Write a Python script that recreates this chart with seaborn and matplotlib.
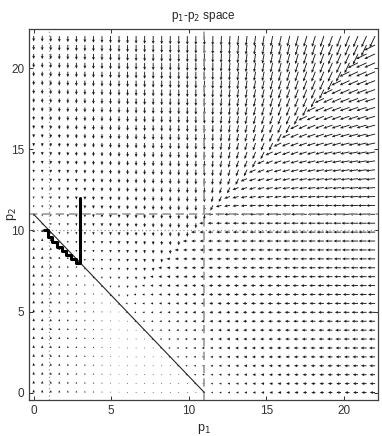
import numpy as np
import matplotlib
matplotlib.use("Agg")
import matplotlib.pyplot as plt
import seaborn as sns

# price grid for the arrow field
p_grid = np.arange(0, 22.01, 0.55)

# boundaries seen in the picture
cap = 11            # p1 + p2 = 11 line, and dashed lines at 11
eq_p1 = 1           # dotted vertical
eq_p2 = 10          # dotted horizontal

# solid line p1 + p2 = 11
line_p1 = [0, 11]
line_p2 = [11, 0]

# adjustment path (thick black)
path_p1 = [3, 3, 2.7, 2.7, 2.4, 2.4, 2.1, 2.1, 1.8, 1.8, 1.5, 1.5, 1.2, 1.2, 0.9, 0.9, 0.65]
path_p2 = [12, 8, 8, 8.25, 8.25, 8.5, 8.5, 8.75, 8.75, 9.0, 9.0, 9.3, 9.3, 9.6, 9.6, 10.0, 10.0]

# arrow-length parameters (data units)
base_len = 0.12
slope_len = 0.02
up_len = 0.18
up_fade = 8
mix = 0.5

sns.set_style("ticks")
plt.rcParams['font.family'] = ['Liberation Sans Narrow', 'Liberation Sans', 'DejaVu Sans']
plt.rcParams['mathtext.fontset'] = 'custom'
plt.rcParams['mathtext.rm'] = 'Liberation Sans Narrow'
plt.rcParams['mathtext.it'] = 'Liberation Sans Narrow'

P1, P2 = np.meshgrid(p_grid, p_grid)
s = P1 + P2 - cap
L = base_len + slope_len * s
U = np.zeros_like(P1)
V = np.zeros_like(P1)

below = s < 0
V[below] = up_len * np.clip(up_fade - P1[below], 0, None) / up_fade

hi2 = (~below) & (P2 >= P1)
th2 = np.arctan(mix * np.clip(P1 - cap, 0, None) / np.maximum(P2 - cap, 0.3))
U[hi2] = -(L * np.sin(th2))[hi2]
V[hi2] = -(L * np.cos(th2))[hi2]

hi1 = (~below) & (P1 > P2)
th1 = np.arctan(mix * np.clip(P2 - cap, 0, None) / np.maximum(P1 - cap, 0.3))
U[hi1] = -(L * np.cos(th1))[hi1]
V[hi1] = -(L * np.sin(th1))[hi1]

fig = plt.figure(figsize=(3.82, 4.36), dpi=100)
ax = fig.add_axes([0.076, 0.083, 0.914, 0.851])

ax.quiver(P1, P2, U, V, angles='xy', scale_units='xy', scale=1,
          width=0.0026, headwidth=3.3, headlength=3.6, headaxislength=3.2,
          color='0.1', pivot='tail')

ax.axhline(cap, color='0.6', lw=1.2, ls=(0, (5, 3)))
ax.axvline(cap, color='0.6', lw=1.2, ls=(0, (5, 3)))
ax.axhline(eq_p2, color='0.6', lw=0.9, ls=(0, (1, 2)))
ax.axvline(eq_p1, color='0.6', lw=0.9, ls=(0, (1, 2)))

sns.lineplot(x=line_p1, y=line_p2, ax=ax, color='0.15', lw=0.8, sort=False, estimator=None)
sns.lineplot(x=path_p1, y=path_p2, ax=ax, color='k', lw=2.2, sort=False, estimator=None)

ax.set_xlim(-0.3, 22.2)
ax.set_ylim(-0.45, 22.45)
ax.set_xticks([0, 5, 10, 15, 20])
ax.set_yticks([0, 5, 10, 15, 20])
ax.tick_params(direction='in', top=True, right=True, length=3, width=0.7,
               labelsize=8.5, colors='0.2')
for sp in ax.spines.values():
    sp.set_linewidth(0.9)
    sp.set_color('0.25')
    sp.set_visible(True)

ax.set_title('p$_1$-p$_2$ space', fontsize=8.5, pad=7)
ax.set_xlabel('p$_1$', fontsize=9)
ax.set_ylabel('p$_2$', fontsize=9)
ax.yaxis.set_label_coords(-0.03, 0.5)

fig.savefig('out.png', dpi=100)
